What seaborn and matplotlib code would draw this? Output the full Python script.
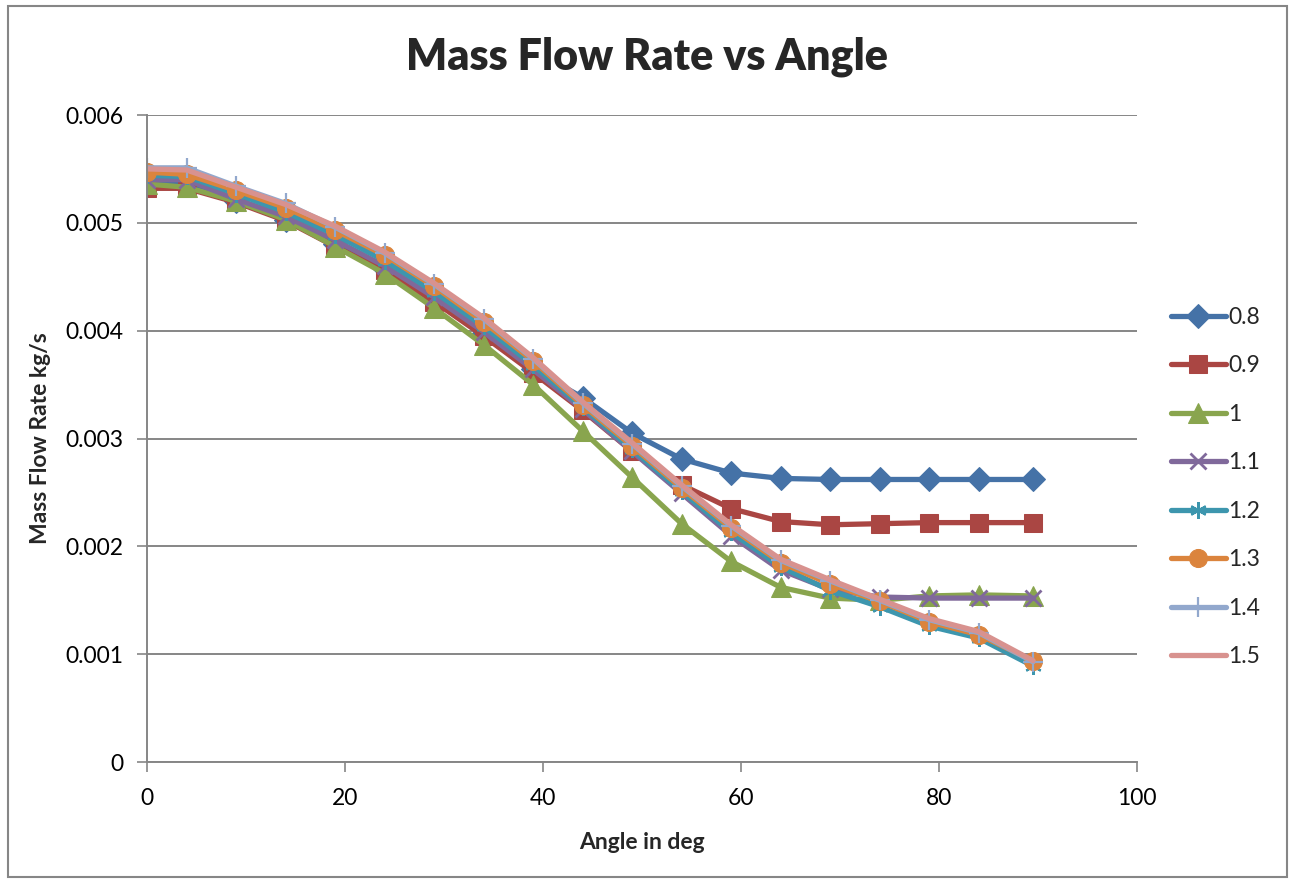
import matplotlib
matplotlib.use("Agg")
import matplotlib.pyplot as plt
from matplotlib.patches import Rectangle
from matplotlib.ticker import FuncFormatter
import seaborn as sns
import pandas as pd

# Angle of the sample points (deg)
angles = [0, 4, 9, 14, 19, 24, 29, 34, 39, 44, 49, 54, 59, 64, 69, 74, 79, 84, 89.5]

# Mass flow rate per series (kg/s)
flow_08 = [0.00535, 0.00537, 0.00520, 0.00503, 0.00480, 0.00457, 0.00429, 0.00398, 0.00364, 0.00338,
           0.00305, 0.00281, 0.00268, 0.00263, 0.00262, 0.00262, 0.00262, 0.00262, 0.00262]
flow_09 = [0.00532, 0.00532, 0.00519, 0.00502, 0.00478, 0.00456, 0.00427, 0.00395, 0.00361, 0.00326,
           0.00288, 0.00257, 0.00235, 0.00223, 0.00220, 0.00221, 0.00222, 0.00222, 0.00222]
flow_10 = [0.00536, 0.00533, 0.00520, 0.00503, 0.00478, 0.00453, 0.00421, 0.00387, 0.00350, 0.00307,
           0.00264, 0.00221, 0.00186, 0.00162, 0.00152, 0.00150, 0.00154, 0.00155, 0.00154]
flow_11 = [0.00540, 0.00540, 0.00522, 0.00506, 0.00484, 0.00460, 0.00431, 0.00399, 0.00364, 0.00327,
           0.00288, 0.00249, 0.00210, 0.00178, 0.00160, 0.00153, 0.00152, 0.00152, 0.00152]
flow_12 = [0.00544, 0.00543, 0.00527, 0.00510, 0.00489, 0.00465, 0.00436, 0.00404, 0.00368, 0.00329,
           0.00290, 0.00251, 0.00213, 0.00181, 0.00159, 0.00144, 0.00126, 0.00115, 0.00089]
flow_13 = [0.00547, 0.00545, 0.00530, 0.00514, 0.00493, 0.00470, 0.00441, 0.00408, 0.00372, 0.00331,
           0.00293, 0.00254, 0.00217, 0.00185, 0.00165, 0.00149, 0.00130, 0.00118, 0.00094]
flow_14 = [0.00551, 0.00551, 0.00534, 0.00518, 0.00496, 0.00472, 0.00443, 0.00411, 0.00374, 0.00333,
           0.00295, 0.00256, 0.00219, 0.00187, 0.00168, 0.00150, 0.00132, 0.00120, 0.00093]
flow_15 = [0.00550, 0.00549, 0.00533, 0.00517, 0.00497, 0.00473, 0.00444, 0.00412, 0.00375, 0.00334,
           0.00296, 0.00257, 0.00220, 0.00188, 0.00169, 0.00151, 0.00133, 0.00121, 0.00094]

series_names = ["0.8", "0.9", "1", "1.1", "1.2", "1.3", "1.4", "1.5"]
series_values = [flow_08, flow_09, flow_10, flow_11, flow_12, flow_13, flow_14, flow_15]

y_ticks = [0, 0.001, 0.002, 0.003, 0.004, 0.005, 0.006]
x_ticks = [0, 20, 40, 60, 80, 100]

colors = ["#4572A7", "#AA4643", "#89A54E", "#80699B", "#3D96AE", "#DB843D", "#92A8CD", "#D8928F"]
marker_styles = [
    dict(marker="D", markersize=12),
    dict(marker="s", markersize=13),
    dict(marker="^", markersize=14),
    dict(marker="x", markersize=12, markeredgewidth=2),
    dict(marker=(6, 2, 0), markersize=12, markeredgewidth=1.6),
    dict(marker="o", markersize=13),
    dict(marker="+", markersize=15, markeredgewidth=1.6),
    dict(),
]

sns.set_theme(style="white")
plt.rcParams["font.family"] = ["Lato", "DejaVu Sans"]

fig = plt.figure(figsize=(12.95, 8.8), dpi=100)
ax = fig.add_axes([147 / 1295, 1 - 762 / 880, (1137 - 147) / 1295, (762 - 115) / 880])

df = pd.DataFrame({"Angle": angles})
for name, vals, col, mstyle in zip(series_names, series_values, colors, marker_styles):
    df[name] = vals
    sns.lineplot(data=df, x="Angle", y=name, ax=ax, color=col, linewidth=3.8,
                 label=name, markeredgecolor=col, solid_capstyle="round", **mstyle)

ax.set_xlim(0, 100)
ax.set_ylim(0, 0.006)
ax.set_xticks(x_ticks)
ax.set_yticks(y_ticks)
ax.yaxis.set_major_formatter(FuncFormatter(lambda v, p: "0" if abs(v) < 1e-12 else f"{v:.3f}"))
ax.grid(axis="y", color="#868686", linewidth=1.4)
ax.grid(axis="x", visible=False)
for side in ("top", "right"):
    ax.spines[side].set_visible(False)
for side in ("left", "bottom"):
    ax.spines[side].set_color("#868686")
    ax.spines[side].set_linewidth(1.4)
ax.tick_params(axis="both", direction="out", length=7, width=1.2, color="#868686",
               labelsize=16.5, labelcolor="black", left=True, bottom=True)
ax.tick_params(axis="y", pad=10)
ax.tick_params(axis="x", pad=12)

ax.set_xlabel("Angle in deg", fontsize=16.5, fontweight="bold", labelpad=16)
ax.set_ylabel("Mass Flow Rate kg/s", fontsize=16.5, fontweight="bold", labelpad=10)
fig.text(647 / 1295, 1 - 57 / 880, "Mass Flow Rate vs Angle", ha="center", va="center",
         fontsize=31, fontweight="heavy")

handles, labels = ax.get_legend_handles_labels()
ax.legend(handles, labels, loc="center left", bbox_to_anchor=(1150 / 1295, 1 - 487 / 880),
          bbox_transform=fig.transFigure, frameon=False, fontsize=16.5, handlelength=2.4,
          handletextpad=0.1, labelspacing=1.2)

fig.patches.append(Rectangle((8 / 1295, 3 / 880), 1279 / 1295, 871 / 880, transform=fig.transFigure,
                             fill=False, edgecolor="#868686", linewidth=1.5))

fig.savefig("out.png", dpi=100)
